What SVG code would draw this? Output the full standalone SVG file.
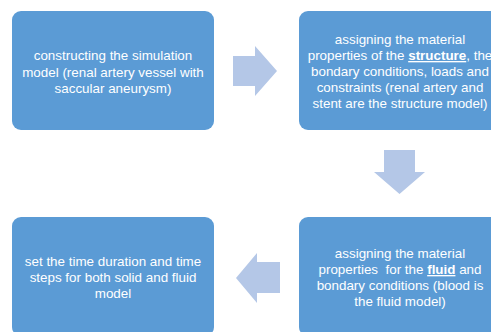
<svg xmlns="http://www.w3.org/2000/svg" width="491" height="332" viewBox="0 0 491 332">
<style>
.box{fill:#5B9BD5;}
.arr{fill:#B4C7E7;}
.t{font-family:"Liberation Sans",Arial,sans-serif;font-size:13.4px;fill:#FFFFFF;text-anchor:middle;}
.b{font-weight:bold;text-decoration:underline;}
</style>
<rect width="491" height="332" fill="#FFFFFF"/>
<g id="node1">
<rect class="box" x="12" y="11" width="202" height="119" rx="9"/>
<text class="t" x="113" y="60">constructing the simulation</text>
<text class="t" x="113" y="77">model (renal artery vessel with</text>
<text class="t" x="113" y="93">saccular aneurysm)</text>
</g>
<g id="node2">
<rect class="box" x="299" y="11" width="202" height="119" rx="9"/>
<text class="t" x="400" y="44">assigning the material</text>
<text class="t" x="400" y="60">properties of the <tspan class="b">structure</tspan>, the</text>
<text class="t" x="400" y="76">bondary conditions, loads and</text>
<text class="t" x="400" y="92">constraints (renal artery and</text>
<text class="t" x="400" y="108">stent are the structure model)</text>
</g>
<g id="node3">
<rect class="box" x="299" y="217" width="202" height="119" rx="9"/>
<text class="t" x="400" y="258">assigning the material</text>
<text class="t" x="400" y="274" xml:space="preserve">properties  for the <tspan class="b">fluid</tspan> and</text>
<text class="t" x="400" y="290">bondary conditions (blood is</text>
<text class="t" x="400" y="306">the fluid model)</text>
</g>
<g id="node4">
<rect class="box" x="12" y="217" width="202" height="119" rx="9"/>
<text class="t" x="113" y="266">set the time duration and time</text>
<text class="t" x="113" y="282">steps for both solid and fluid</text>
<text class="t" x="113" y="298">model</text>
</g>
<g id="connectors">
<polygon class="arr" points="233,56 255,56 255,46 277,71 255,96 255,86 233,86"/>
<polygon class="arr" points="384,150 415,150 415,172 425,172 399.5,194 374,172 384,172"/>
<polygon class="arr" points="280,262 257,262 257,253 236,278 257,303 257,293 280,293"/>
</g>
</svg>
